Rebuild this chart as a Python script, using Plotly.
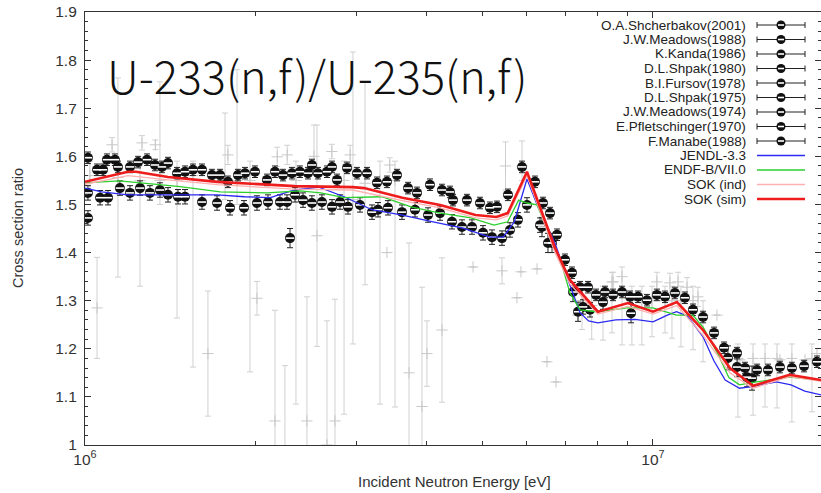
import plotly.graph_objects as go

# ---------------- data: energies in MeV, cross-section ratios ----------------
shch_E = [1.012, 1.05, 1.076, 1.093, 1.129, 1.143, 1.20, 1.24, 1.286, 1.328, 1.366, 1.40, 1.452, 1.50,
          1.549, 1.607, 1.673, 1.729, 1.785, 1.859, 1.913, 1.992, 2.091, 2.16, 2.231, 2.314, 2.39, 2.469,
          2.509, 2.571, 2.667, 2.722, 2.778, 2.893, 3.012, 3.137, 3.266, 3.401, 3.542, 3.704, 3.842, 4.049,
          4.251, 4.391, 4.445, 4.704, 4.959, 5.164, 5.313, 5.555, 5.88, 6.198, 6.402, 6.587, 6.777, 7.0,
          7.201, 7.439, 7.685, 7.938, 8.233, 8.504, 8.82, 9.11, 9.41, 9.759, 10.16, 10.5, 10.93, 11.38,
          11.76, 12.25, 12.81, 13.34, 14.06, 14.52, 15.25, 15.94, 16.73, 17.56, 18.45, 19.44]
shch_R = [1.597, 1.572, 1.572, 1.593, 1.593, 1.578, 1.578, 1.588, 1.593, 1.582, 1.578, 1.586, 1.565, 1.568,
          1.572, 1.572, 1.561, 1.561, 1.547, 1.561, 1.565, 1.568, 1.551, 1.568, 1.561, 1.565, 1.568, 1.565,
          1.582, 1.565, 1.568, 1.578, 1.551, 1.576, 1.565, 1.565, 1.545, 1.547, 1.561, 1.534, 1.524, 1.541,
          1.530, 1.526, 1.509, 1.509, 1.503, 1.493, 1.495, 1.520, 1.578, 1.547, 1.503, 1.482, 1.437, 1.385,
          1.358, 1.328, 1.328, 1.312, 1.318, 1.312, 1.318, 1.308, 1.308, 1.301, 1.312, 1.308, 1.316, 1.306,
          1.281, 1.266, 1.233, 1.202, 1.191, 1.160, 1.156, 1.156, 1.162, 1.160, 1.164, 1.173]

mead88_E = [1.012, 1.063, 1.098, 1.152, 1.20, 1.25, 1.301, 1.355, 1.40, 1.458, 1.50, 1.607, 1.708, 1.80,
            1.905, 2.008, 2.10, 2.204, 2.268, 2.343, 2.42, 2.509, 2.613, 2.722, 2.812, 2.904, 3.049, 3.201,
            3.28, 3.415, 3.615, 3.811, 4.017, 4.217, 4.427, 4.61, 4.801, 5.02, 5.206, 5.422, 5.60, 5.784,
            6.0, 6.326]
mead88_R = [1.524, 1.514, 1.514, 1.534, 1.524, 1.534, 1.524, 1.530, 1.520, 1.516, 1.516, 1.505, 1.503, 1.493,
            1.493, 1.503, 1.505, 1.505, 1.505, 1.520, 1.509, 1.503, 1.505, 1.495, 1.505, 1.495, 1.499, 1.484,
            1.489, 1.493, 1.484, 1.489, 1.478, 1.482, 1.464, 1.453, 1.453, 1.441, 1.432, 1.430, 1.447, 1.468,
            1.499, 1.457]

kanda_E = [2.296, 6.377, 6.641]
kanda_R = [1.430, 1.453, 1.420]
shpak80_E = [7.379]
shpak80_R = [1.277]
fursov_E = [1.012, 7.531, 7.747, 8.166]
fursov_R = [1.472, 1.287, 1.281, 1.297]
shpak75_E = [9.147]
shpak75_R = [1.274]
mead74_E = [14.06, 14.64]
mead74_R = [1.162, 1.141]
pflet_E = [13.55, 14.94]
pflet_R = [1.181, 1.139]
manabe_E = [6.533, 7.231]
manabe_R = [1.420, 1.318]

# light grey data set (large uncertainties)
grey_E = [1.02, 1.05, 1.116, 1.143, 1.25, 1.26, 1.33, 1.355, 1.452, 1.549, 1.646, 1.764, 1.785, 1.852,
          1.952, 2.008, 2.16, 2.18, 2.249, 2.27, 2.352, 2.459, 2.53, 2.561, 2.667, 2.72, 2.755, 2.858,
          2.93, 2.963, 3.112, 3.306, 3.401, 3.44, 3.514, 3.719, 3.92, 4.0, 4.251, 4.821, 5.422, 5.5,
          5.761, 5.855, 5.88, 6.249, 6.507, 6.75, 7.38, 7.5, 7.8, 8.166, 8.47, 8.504, 8.82, 9.18, 9.56,
          9.96, 10.16, 10.5, 10.71, 10.8, 11.07, 11.2, 11.48, 11.76, 12.0, 12.25, 12.96, 14.11, 14.23,
          15.0, 15.75, 16.53, 16.73, 17.56, 18.52, 19.05, 19.44]
grey_R = [1.56, 1.285, 1.624, 1.556, 1.55, 1.628, 1.624, 1.55, 1.55, 1.56, 1.19, 1.55, 1.603, 1.55,
          1.55, 1.305, 1.05, 1.599, 0.98, 1.603, 1.55, 1.05, 1.60, 1.435, 1.0, 1.61, 1.05, 1.55,
          1.603, 1.51, 1.544, 1.55, 1.40, 1.582, 1.55, 1.15, 1.08, 1.19, 1.239, 1.37, 1.362, 1.58,
          1.306, 1.36, 1.58, 1.366, 1.173, 1.131, 1.27, 1.30, 1.29, 1.30, 1.339, 1.339, 1.35, 1.30, 1.30,
          1.30, 1.339, 1.30, 1.337, 1.30, 1.339, 1.30, 1.328, 1.30, 1.308, 1.27, 1.27, 1.18, 1.177,
          1.18, 1.18, 1.18, 1.177, 1.18, 1.177, 1.18, 1.19]
grey_up = [0.03, 0.105, 0.015, 0.207, 0.03, 0.015, 0.01, 0.205, 0.04, 0.03, 0.13, 0.14, 0.02, 0.23,
           0.04, 0.035, 0.23, 0.02, 0.185, 0.02, 0.04, 0.258, 0.065, 0.23, 0.258, 0.015, 0.253, 0.04,
           0.02, 0.307, 0.211, 0.04, 0.0, 0.015, 0.04, 0.27, 0.248, 0.068, 0.15, 0.0, 0.027, 0.05,
           0.0, 0.0, 0.052, 0.0, 0.0, 0.0, 0.0, 0.03, 0.03, 0.03, 0.02, 0.02, 0.02, 0.03, 0.03,
           0.03, 0.02, 0.03, 0.02, 0.03, 0.02, 0.03, 0.02, 0.03, 0.02, 0.03, 0.0, 0.03, 0.0,
           0.03, 0.03, 0.03, 0.0, 0.03, 0.0, 0.03, 0.0]
grey_dn = [0.03, 0.105, 0.015, 0.207, 0.22, 0.015, 0.01, 0.05, 0.286, 0.398, 0.13, 0.04, 0.02, 0.05,
           0.398, 0.035, 0.23, 0.02, 0.185, 0.02, 0.465, 0.258, 0.02, 0.23, 0.258, 0.015, 0.253, 0.486,
           0.02, 0.30, 0.211, 0.465, 0.0, 0.015, 0.471, 0.27, 0.248, 0.068, 0.15, 0.0, 0.027, 0.05,
           0.0, 0.0, 0.03, 0.0, 0.0, 0.0, 0.0, 0.06, 0.07, 0.082, 0.106, 0.02, 0.142, 0.092, 0.092,
           0.075, 0.02, 0.067, 0.02, 0.078, 0.02, 0.096, 0.02, 0.102, 0.02, 0.097, 0.0, 0.122, 0.0,
           0.118, 0.101, 0.103, 0.0, 0.132, 0.0, 0.111, 0.0]

# evaluations
jendl_E = [1.0, 1.07, 1.19, 1.40, 1.71, 1.91, 2.12, 2.25, 2.34, 2.58, 2.86, 3.2, 3.62, 4.1, 4.63, 5.16,
           5.45, 5.7, 6.0, 6.25, 6.72, 7.0, 7.2, 7.44, 7.7, 8.0, 8.6, 9.3, 10.0, 10.6, 11.0, 11.5, 12.25,
           12.8, 13.4, 14.2, 15.0, 16.5, 17.5, 18.5, 19.8]
jendl_R = [1.534, 1.526, 1.520, 1.520, 1.520, 1.516, 1.514, 1.524, 1.530, 1.536, 1.516, 1.489, 1.478, 1.464,
           1.451, 1.432, 1.432, 1.464, 1.553, 1.500, 1.420, 1.360, 1.320, 1.275, 1.258, 1.254, 1.260, 1.261,
           1.256, 1.270, 1.277, 1.268, 1.225, 1.175, 1.135, 1.118, 1.122, 1.131, 1.125, 1.112, 1.104]
endf_E = [1.0, 1.15, 1.47, 1.73, 2.09, 2.39, 2.6, 2.86, 3.33, 3.75, 4.22, 4.78, 5.25, 5.55, 5.8, 6.0,
          6.25, 6.9, 7.14, 7.44, 7.95, 9.0, 10.0, 11.0, 11.75, 12.25, 13.0, 13.6, 14.2, 15.0, 17.4, 19.8]
endf_R = [1.545, 1.549, 1.537, 1.526, 1.524, 1.528, 1.524, 1.514, 1.516, 1.495, 1.482, 1.472, 1.457, 1.464,
          1.509, 1.503, 1.499, 1.378, 1.316, 1.281, 1.277, 1.285, 1.285, 1.270, 1.270, 1.245, 1.190, 1.140,
          1.125, 1.130, 1.141, 1.135]
sokind_E = [1.0, 1.19, 1.40, 1.71, 2.1, 2.34, 2.96, 3.62, 4.22, 4.87, 5.3, 5.55, 6.0, 6.72, 7.14, 8.0,
            9.03, 10.0, 11.02, 12.25, 13.66, 15.0, 17.4, 19.8]
sokind_R = [1.542, 1.560, 1.551, 1.541, 1.535, 1.532, 1.530, 1.508, 1.493, 1.472, 1.468, 1.476, 1.560, 1.400,
            1.335, 1.272, 1.288, 1.272, 1.290, 1.228, 1.150, 1.118, 1.142, 1.132]
soksim_E = [1.0, 1.19, 1.23, 1.40, 1.71, 2.1, 2.34, 2.96, 3.1, 3.62, 4.22, 4.87, 5.3, 5.55, 6.0, 6.72,
            7.14, 8.0, 9.03, 10.0, 11.02, 12.25, 13.66, 15.0, 17.4, 19.8]
soksim_R = [1.547, 1.568, 1.568, 1.557, 1.547, 1.541, 1.538, 1.536, 1.534, 1.514, 1.499, 1.478, 1.474, 1.482,
            1.568, 1.410, 1.343, 1.277, 1.295, 1.277, 1.297, 1.239, 1.160, 1.123, 1.146, 1.135]

exp_series = [
    ("O.A.Shcherbakov(2001)", shch_E, shch_R, 0.012),
    ("J.W.Meadows(1988)", mead88_E, mead88_R, 0.015),
    ("K.Kanda(1986)", kanda_E, kanda_R, 0.02),
    ("D.L.Shpak(1980)", shpak80_E, shpak80_R, 0.02),
    ("B.I.Fursov(1978)", fursov_E, fursov_R, 0.015),
    ("D.L.Shpak(1975)", shpak75_E, shpak75_R, 0.02),
    ("J.W.Meadows(1974)", mead74_E, mead74_R, 0.02),
    ("E.Pfletschinger(1970)", pflet_E, pflet_R, 0.025),
    ("F.Manabe(1988)", manabe_E, manabe_R, 0.02),
]
eval_series = [
    ("JENDL-3.3", jendl_E, jendl_R, "#2a2af0", 1.3),
    ("ENDF-B/VII.0", endf_E, endf_R, "#2ccf2c", 1.3),
    ("SOK (ind)", sokind_E, sokind_R, "#ffb0b0", 1.3),
    ("SOK (sim)", soksim_E, soksim_R, "#ee1c1c", 2.6),
]

x_major = [1e6, 1e7]
x_major_text = ["10<sup>6</sup>", "10<sup>7</sup>"]
x_minor = [2e6, 3e6, 4e6, 5e6, 6e6, 7e6, 8e6, 9e6, 2e7]
y_ticks = [1.0, 1.1, 1.2, 1.3, 1.4, 1.5, 1.6, 1.7, 1.8, 1.9]
y_text = ["1", "1.1", "1.2", "1.3", "1.4", "1.5", "1.6", "1.7", "1.8", "1.9"]

MEV = 1e6
fig = go.Figure()

fig.add_trace(go.Scatter(
    x=[e * MEV for e in grey_E], y=grey_R, mode="markers", hoverinfo="skip",
    marker=dict(symbol="cross-thin", size=8, line=dict(color="#c8c8c8", width=1)),
    error_y=dict(type="data", symmetric=False, array=grey_up, arrayminus=grey_dn,
                 color="#d0d0d0", thickness=1, width=3)))

all_E, all_R = [], []
for name, E, R, err in exp_series:
    fig.add_trace(go.Scatter(
        x=[e * MEV for e in E], y=R, mode="markers", name=name,
        marker=dict(symbol="circle", size=10, color="#111111", line=dict(width=0)),
        error_y=dict(type="constant", value=err, color="#222222", thickness=1, width=3)))
    all_E += E
    all_R += R

fig.add_trace(go.Scatter(
    x=[e * MEV for e in all_E], y=all_R, mode="markers", hoverinfo="skip",
    marker=dict(symbol="line-ew", size=6, line=dict(color="white", width=1.6))))

for name, E, R, col, w in eval_series:
    fig.add_trace(go.Scatter(x=[e * MEV for e in E], y=R, mode="lines", name=name,
                             line=dict(color=col, width=w)))

# ---------------- layout ----------------
W, H = 821, 493
L, Rm, T, B = 85, 0, 12, 48
pw, ph = W - L - Rm, H - T - B


def px_x(x):
    return (x - L) / pw


def px_y(y):
    return (H - B - y) / ph


SANS = "Liberation Sans, Arial, sans-serif"
axis_font = dict(family=SANS, size=15.5, color="#333333")
leg_font = dict(family=SANS, size=13.5, color="#222222")

shapes, annotations = [], []
rows = [25 + 14.5 * i for i in range(13)]
for i, (name, E, R, err) in enumerate(exp_series):
    yy = rows[i]
    shapes.append(dict(type="line", xref="paper", yref="paper", x0=px_x(757), x1=px_x(805),
                       y0=px_y(yy), y1=px_y(yy), line=dict(color="#222", width=1)))
    for cx in (757, 805):
        shapes.append(dict(type="line", xref="paper", yref="paper", x0=px_x(cx), x1=px_x(cx),
                           y0=px_y(yy - 3), y1=px_y(yy + 3), line=dict(color="#222", width=1)))
    shapes.append(dict(type="circle", xref="paper", yref="paper", x0=px_x(776.5), x1=px_x(785.5),
                       y0=px_y(yy + 4.5), y1=px_y(yy - 4.5), fillcolor="#111", line=dict(width=0)))
    shapes.append(dict(type="line", xref="paper", yref="paper", x0=px_x(778), x1=px_x(784),
                       y0=px_y(yy), y1=px_y(yy), line=dict(color="white", width=1.6)))
    annotations.append(dict(text=name, xref="paper", yref="paper", x=px_x(748), y=px_y(yy),
                            xanchor="right", yanchor="middle", showarrow=False, font=leg_font))
for j, (name, E, R, col, w) in enumerate(eval_series):
    yy = rows[9 + j]
    shapes.append(dict(type="line", xref="paper", yref="paper", x0=px_x(757), x1=px_x(805),
                       y0=px_y(yy), y1=px_y(yy), line=dict(color=col, width=w)))
    annotations.append(dict(text=name, xref="paper", yref="paper", x=px_x(748), y=px_y(yy),
                            xanchor="right", yanchor="middle", showarrow=False, font=leg_font))

annotations.append(dict(text="U-233(n,f)/U-235(n,f)", xref="paper", yref="paper",
                        x=px_x(105), y=px_y(74), xanchor="left", yanchor="middle", showarrow=False,
                        font=dict(family="Noto Sans CJK JP", size=45, color="#111", weight=300)))
annotations.append(dict(text="Incident Neutron Energy [eV]", xref="paper", yref="paper",
                        x=px_x(455), y=px_y(481), xanchor="center", yanchor="middle", showarrow=False,
                        font=dict(family=SANS, size=15, color="#333")))
annotations.append(dict(text="Cross section ratio", xref="paper", yref="paper",
                        x=px_x(18), y=px_y(228), xanchor="center", yanchor="middle", showarrow=False,
                        textangle=-90, font=dict(family=SANS, size=14.5, color="#333")))

fig.update_layout(
    width=W, height=H, margin=dict(l=L, r=Rm, t=T, b=B, pad=0),
    paper_bgcolor="white", plot_bgcolor="white", showlegend=False,
    shapes=shapes, annotations=annotations,
    xaxis=dict(type="log", range=[6, 7.2958], tickvals=x_major, ticktext=x_major_text,
               ticks="inside", ticklen=6, tickcolor="#333", showline=True, linecolor="#333",
               linewidth=1.2, mirror="ticks", showgrid=False, zeroline=False, tickfont=axis_font,
               minor=dict(tickvals=x_minor, ticks="inside", ticklen=4, tickcolor="#333", showgrid=False)),
    yaxis=dict(range=[1, 1.9], tickvals=y_ticks, ticktext=y_text, ticks="inside", ticklen=6,
               tickcolor="#333", showline=True, linecolor="#333", linewidth=1.2, mirror="ticks",
               showgrid=False, zeroline=False, tickfont=axis_font, ticklabelstandoff=4,
               minor=dict(ticks="inside", ticklen=3, dtick=0.02, tickcolor="#333", showgrid=False)),
)

fig.write_html("out.html", config={"displayModeBar": False},
               post_script="document.body.style.margin='0';document.body.style.padding='0';")
